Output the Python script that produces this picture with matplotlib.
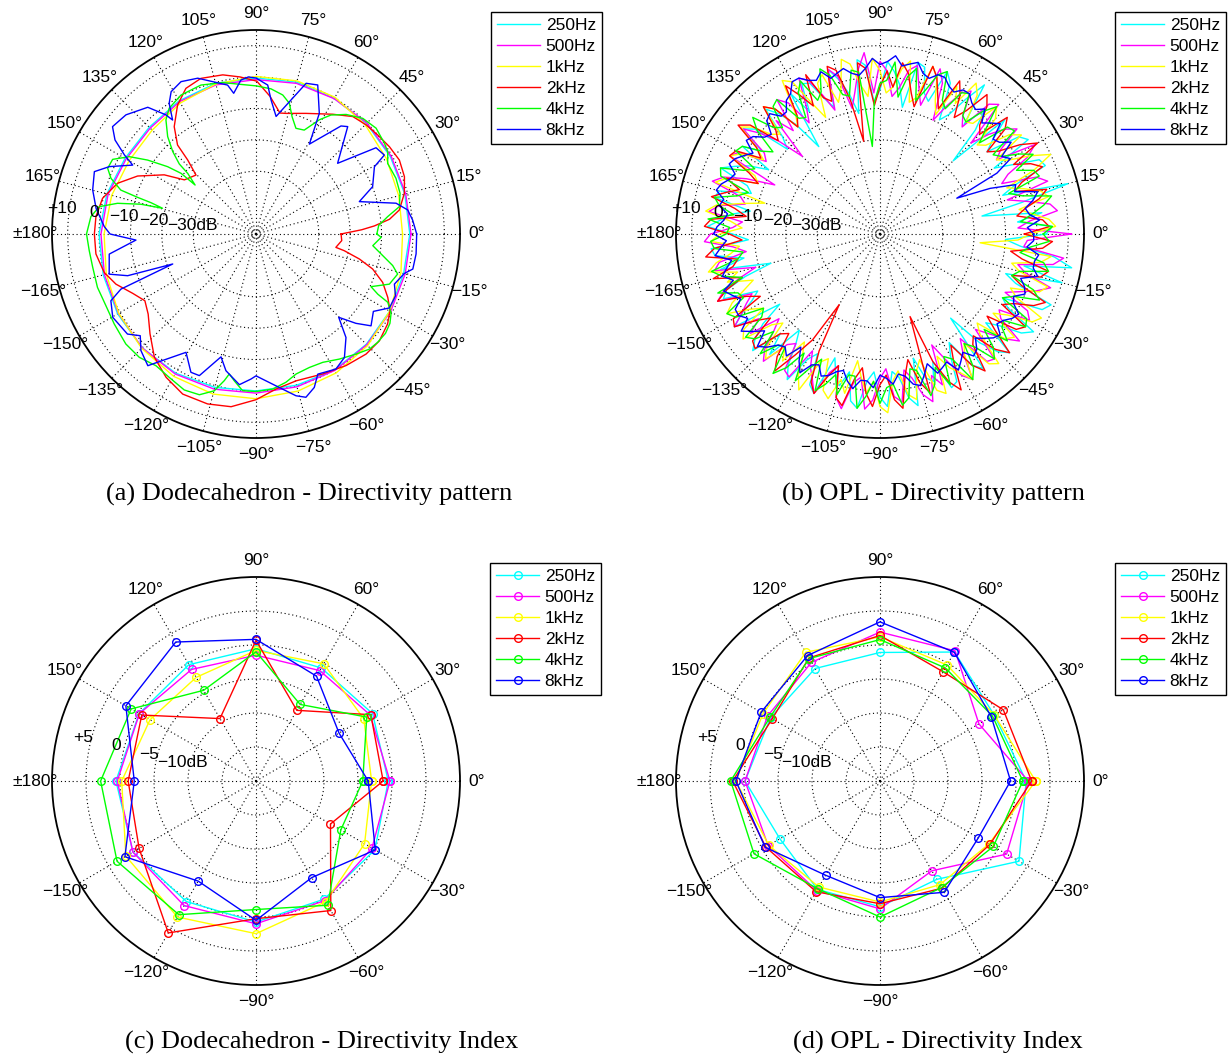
import numpy as np
import matplotlib
matplotlib.use('agg')
import matplotlib.pyplot as plt
from matplotlib.lines import Line2D

plt.rcParams['font.family'] = ['Liberation Sans', 'DejaVu Sans']

W, H = 1228, 1059
MINUS = '\u2212'

freq_labels = ['250Hz', '500Hz', '1kHz', '2kHz', '4kHz', '8kHz']
freq_colors = ['#00ffff', '#ff00ff', '#ffff00', '#ff0000', '#00ff00', '#0000ff']

# ---------------- (a) Dodecahedron - directivity pattern (dB) ----------------
dod_smooth_deg = list(range(0, 360, 15))
dod_250 = [-1.0, -0.9, -0.6, -0.2, -0.1, 0.1, -0.3, -0.3, -1.0, -1.9, -1.8, -0.8,
           0.0, 0.4, 0.9, 1.3, 1.2, 0.6, 0.0, -0.1, 0.0, -0.3, -0.8, -1.3]
dod_500 = [-0.6, -0.6, -0.3, 0.0, -0.2, -0.3, -0.8, -0.8, -1.3, -2.3, -2.2, -1.2,
           -0.6, 0.0, 0.6, 1.3, 1.5, 1.2, 0.7, 0.4, 0.2, -0.1, -0.5, -0.8]
dod_1k = [-3.3, -2.9, -2.0, -0.8, 0.3, 0.5, 0.2, -0.5, -1.8, -3.2, -3.3, -2.4,
          -1.6, -0.6, 0.5, 1.5, 2.4, 2.8, 2.5, 1.8, 1.1, 0.3, -0.8, -2.2]

dod_2k_deg = [0, 2.3, 3.9, 6.3, 9.5, 15.3, 21.1, 27.3, 33.2, 39.1,
              44.7, 50.5, 57.4, 67.5, 76, 78.8, 84.2, 89.7, 95.8, 101.8,
              109.5, 115.7, 121.3, 127.3, 131.4, 132.7, 135.5, 142.9, 147.2, 153.9,
              159.9, 166.9, 173.8, 180, 187.1, 194.2, 199.7, 205.7, 211, 216.6,
              223.3, 230.5, 237.9, 245.4, 254.1, 261.8, 270, 277.4, 285.3, 295.5,
              304.4, 312.5, 319.1, 325.6, 330.2, 334.3, 339.1, 343.3, 346.4, 349.3,
              350.5, 355.6]
dod_2k = [-22.9, -16.3, -12.2, -7.2, -3.7, -1.0, 0.7, 1.4, 0.8, 0.0,
          -0.6, -1.5, -4.7, -8.4, -10.4, -10.7, -5.9, -1.3, 0.3, 1.8,
          2.6, 1.5, -1.9, -7.0, -12.2, -17.9, -23.2, -21.4, -15.2, -8.0,
          -3.0, 0.2, 1.3, 1.5, 1.4, -0.1, -2.6, -6.4, -8.7, -7.2,
          -3.6, 0.9, 3.9, 6.1, 6.3, 5.6, 2.8, -0.2, -1.5, -0.6,
          0.8, 1.9, 2.0, 0.8, -0.8, -3.4, -6.8, -11.2, -16.1, -21.4,
          -24.2, -22.6]

dod_4k_deg = [0, 4, 7.5, 10.8, 15.8, 21.7, 28.2, 32, 35.2, 41.4,
              47.3, 53, 57.8, 61, 65.1, 69.3, 72.9, 75.7, 79.1, 84.1,
              90, 95.7, 102.4, 110.3, 118.4, 124.6, 128.3, 132.2, 135.3, 137.6,
              138.4, 141.2, 141.0, 142.7, 145.7, 148.6, 152.5, 156.1, 159, 162,
              162.8, 163.4, 164.6, 165.5, 167.5, 170.1, 174, 180, 185.7, 191.5,
              198.6, 205.5, 212.4, 220.2, 226.6, 232.8, 238.8, 245.3, 250.6, 255.1,
              257.8, 259.2, 261.6, 265.1, 270, 276.1, 281.4, 286, 291.8, 297.5,
              303.7, 309.8, 314.6, 318.3, 322.5, 326.3, 329.6, 332.6, 333.7, 335.4,
              339.4, 344.2, 347, 350.9, 354.3, 358.5]
dod_4k = [-11.5, -10.8, -7.7, -3.5, -2.3, -2.0, -2.4, -0.5, 0.1, 1.0,
          0.15, -2.3, -5.2, -8.4, -13.5, -14.0, -10.9, -7.0, -4.9, -3.5,
          -2.8, -2.1, -0.6, 0.6, 0.3, -1.3, -3.7, -8.1, -12.7, -16.9,
          -20.9, -25.1, -19.3, -14.6, -8.2, -2.7, 1.5, 1.7, -0.5, -4.7,
          -10.5, -15.1, -19.1, -12.1, -4.8, 0.7, 2.9, 4.0, 3.4, 3.1,
          3.3, 3.0, 3.5, 4.3, 4.1, 2.7, 3.4, 4.7, 4.3, 1.7,
          -2.2, -4.6, -2.7, 0.1, 0.2, -0.3, -1.8, -3.6, -4.2, -3.9,
          -2.1, -0.2, 1.5, 1.9, 2.0, 1.3, -0.1, -2.7, -6.7, -9.7,
          -4.6, -3.1, -5.3, -9.6, -12.6, -10.1]

dod_8k_deg = [0, 5.1, 9.0, 12.4, 17.4, 22.1, 29.6, 31.6, 35.7, 40.9,
              49.5, 51.8, 59.3, 62.3, 67.5, 71.6, 80.3, 83.6, 85.5, 90,
              92.8, 95.6, 99.0, 100.8, 110.5, 116.2, 120.8, 123.6, 126.2, 127.1,
              130.5, 137.5, 143.2, 146.3, 149.0, 150.8, 155.3, 158.9, 164.9, 170.9,
              177.2, 180, 182.9, 187.8, 195.3, 198.0, 199.8, 202.2, 204.7, 210.2,
              217.9, 221.3, 225.4, 230.6, 232.5, 239.4, 244.8, 248.2, 254.1, 257.6,
              263.7, 268, 270, 277.5, 283.9, 287, 290.8, 293.8, 300.6, 305.6,
              311, 314.8, 318.2, 321.4, 326.6, 331, 336.1, 340.1, 345.1, 347.4,
              352.9]
dod_8k = [1.2, 0.1, -1.05, -4.3, -15.5, -9.9, -6.6, -2.0, -2.9, -15.6,
          -5.0, -6.2, -16.7, -6.6, 1.4, 0.6, -12.0, -7.0, -2.4, -0.3,
          0.1, -0.7, -4.6, -1.7, 3.0, 4.1, 2.8, 0.0, -5.0, -2.4,
          3.1, 6.2, 7.1, 4.0, -1.1, -5.0, 1.4, 5.2, 3.9, 1.6,
          -1.6, -3.5, -11.7, -2.8, -1.5, -7.0, -21.8, -3.5, 0.9, 2.8,
          1.9, -0.9, 2.2, 4.3, 1.5, -6.2, -1.3, -1.4, -9.3, -5.4,
          -1.7, -3.75, -4.8, -1.2, 3.1, 4.4, 2.3, -1.2, 0.0, -1.6,
          -6.3, -12.6, -7.3, -3.1, -5.2, -1.4, -1.4, -3.1, -1.1, 1.2,
          1.4]

# ---------------- (b) OPL - directivity pattern (dB) ----------------
# values at 0, 5, 10 ... deg and at the half steps 2.5, 7.5 ... deg
opl_deg = np.arange(0, 360, 2.5)
opl_250 = [3, -6, -17, 12, -4, 6, -8, 4, -3, -17, 2, 8,
           -6, 3, -5, 5, -9, 2, -4, 4, -11, 1, -7, 3,
           -5, -16, 0, -6, 2, -4, -9, 1, -5, 3, -8, 1,
           -3, 4, -6, -14, 2, -7, 1, -11, 2, -5, -10, 1,
           -4, 3, -8, 0, 4, -3, 2, -6, 3, -9, 0, 4,
           -5, 1, -15, 3, -6, 5, -3, 7, -4, 10, 12, -5]
opl_250_mid = [5, 2, -4, -9, 7, -2, 6, -7, 4, -5, -6, 1,
               -9, 6, -3, 6, -2, 5, -8, 6, -4, 5, -3, 4,
               3, -6, 4, -10, 5, 2, -3, 5, -7, 4, -2, 5,
               -8, 3, 2, -5, 4, -4, 5, -3, 5, 2, -6, 5,
               -7, 5, -3, -5, 6, -6, 5, -4, 6, -2, -6, 3,
               -9, 4, -3, 6, -2, 8, -6, 9, -8, -3, 6, -10]
opl_500 = [11, -2, 5, -8, 3, -5, 7, -3, 2, -9, 4, -4,
           2, -10, 6, -2, 3, -6, 5, 8, -4, 2, -8, 4,
           -3, 1, -7, -15, 0, -5, 2, -13, 3, -4, 2, -6,
           4, -3, 2, -9, 3, -5, 1, -3, -8, 2, -4, 3,
           -7, 1, -3, 4, -2, 6, -4, 2, -6, 3, -2, -11,
           2, -4, 3, -7, 2, -3, 5, -6, 3, -2, 6, -4]
opl_500_mid = [-6, 7, -2, 6, -8, 3, -6, 5, -3, 6, -7, 4,
               -4, 2, -7, 5, -3, 2, -5, 3, -9, 5, -2, 6,
               -8, 4, -1, -6, 5, -7, 4, -4, 6, -6, 5, -3,
               6, -7, 4, -3, 6, -2, 5, 2, -4, 5, -6, 4,
               -2, 5, -6, 7, -4, 3, -7, 4, -3, 6, 2, -5,
               5, -8, 4, -3, 6, -5, 3, -2, 7, -5, 9, -3]
opl_1k = [-2, 4, -5, 3, -7, 10, -3, 5, -6, 2, -4, 4,
          -2, -8, 3, -5, 6, -3, 2, -6, 5, -2, 4, -9,
          6, -3, 2, -5, 3, -2, 1, -6, 2, -12, 3, -2,
          1, -5, 3, -3, -7, 2, -2, 3, -5, 1, -3, -8,
          2, -5, 3, -2, -9, 1, 5, -3, 2, -5, 3, -7,
          1, -3, 4, -5, 2, -6, 6, -2, 4, -4, 2, -18]
opl_1k_mid = [6, -1, 5, -2, 3, 4, -6, 2, -8, 5, -5, 7,
              3, -4, 6, -7, 3, -5, 6, -2, 7, -6, 2, -3,
              8, -7, 5, -3, 6, -6, 4, -8, 5, -5, 6, -6,
              4, -2, 6, 1, -3, 5, -6, 5, -8, 4, 1, -4,
              6, -7, 5, 2, -4, -3, 7, -6, 4, -8, 5, -2,
              5, -6, 6, -8, 4, -2, 8, -5, 6, -7, 5, -6]
opl_2k = [-4, 2, -3, 5, -2, 3, 8, -4, 2, -5, 3, -2,
          1, -6, 3, -8, 2, -3, -3, 3, -20, 4, -5, 6,
          1, -4, 2, -3, 4, -2, 3, -4, 2, 1, -3, 4,
          -2, 3, -4, 5, 2, -3, 4, -2, 3, -5, 1, -3,
          -24, 2, -2, 4, -3, 1, -2, 3, -4, -1, -22, 2,
          -3, 1, -4, 2, -2, 3, -5, 4, -2, 3, -4, 2]
opl_2k_mid = [4, -6, 2, -5, 6, -2, 3, -7, 5, -3, 6, -6,
              5, -2, 6, -4, 5, 2, -9, 5, -6, 6, -3, -4,
              6, -7, 5, -6, 7, -5, 4, -8, -3, 5, -7, 6,
              -6, 6, -2, -4, 6, -7, 5, -6, 4, -7, 5, -10,
              -8, 5, -6, 6, -7, 5, -5, 6, -9, 3, -6, 6,
              -8, 5, -6, 6, -7, 5, -2, 7, -6, 5, -8, 5]
opl_4k = [2, -5, 3, -3, 4, -2, 1, -6, 3, -2, 1, -4,
          2, -3, 4, -6, 1, 5, -2, -22, 3, -4, 6, -3,
          2, -5, 3, -2, 1, -4, 3, -2, 4, -3, 2, 5,
          -1, 3, -4, 2, 5, -2, 3, -4, 2, 4, -3, 2,
          4, -6, 1, 3, -4, 2, 4, -2, 3, -5, 1, 3,
          -4, 2, -3, 1, 3, -2, 4, -3, 2, -4, 3, -2]
opl_4k_mid = [5, -1, 6, -7, 3, 5, -4, 4, -7, 5, -5, 3,
              -5, 6, -2, 4, -6, -1, -8, 2, -5, 3, -1, 5,
              -6, 4, -4, 5, -7, 2, -5, 5, -6, 4, -3, -2,
              4, -6, 5, -4, -1, 5, -6, 4, -4, -2, 6, -5,
              -2, 4, -3, -4, 6, -3, -1, 5, -6, 4, -4, -6,
              5, -6, 4, -5, -1, 5, -6, 5, -6, 5, -5, 4]
opl_8k = [-1, 1, -3, 2, -4, -23, -2, 1, -3, 0, 2, 1,
          3, 2, 4, 3, 5, 7, 4, 3, 2, 3, 5, 4,
          6, 2, -1, 1, -2, 2, 0, 3, 1, 4, 2, 0,
          3, 1, -2, 2, 3, -1, 2, 4, -2, 1, -3, -6,
          1, -4, -2, -5, 0, -3, -5, -2, -4, 0, -6, -3,
          0, -4, -2, -3, 0, -2, 1, -3, -1, 2, 0, -3]
opl_8k_mid = [-3, -2, 0, -5, -12, -8, -4, -2, 2, -2, 0, 3,
              1, 4, 2, 6, 4, 5, 6, 1, 4, 2, 3, 6,
              3, -1, 2, -3, 1, -2, 2, 0, 3, 1, -1, 2,
              -1, 3, 0, -1, 1, 2, 0, 1, 3, -2, -1, -2,
              -3, -1, -4, -2, -3, -1, -4, -5, -1, -3, -2, -4,
              -2, -1, -5, -1, -3, 0, -2, 0, -3, 0, 1, -1]

# ---------------- (c)/(d) directivity index (dB, every 30 deg) ----------------
di_deg = list(range(0, 360, 30))
dod_di_250 = [-0.55, -0.2, -0.8, -0.55, -0.25, -0.15, 0.6, 0.9, 0.47, 0.74, 0.06, 0.2]
dod_di_500 = [-0.3, -0.6, -1.25, -1.5, -1.05, -0.2, 0.4, 0.9, 1.15, 1.0, 0.3, -0.3]
dod_di_1k = [-3.0, -1.7, -0.1, -0.8, -2.4, -2.0, -0.25, 2.1, 3.1, 2.45, 0.5, -1.56]
dod_di_2k = [-1.3, -0.5, -8.0, 0.7, -9.4, -0.6, -1.2, -0.15, 5.8, 0.25, 2.0, -7.35]
dod_di_4k = [-4.3, -1.2, -7.0, -1.0, -4.6, 1.2, 2.85, 3.6, 2.7, -1.1, 1.1, -5.6]
dod_di_8k = [-3.5, -5.9, -2.2, 0.83, 3.6, 2.1, -2.1, 2.26, -3.0, 0.49, -3.6, 0.26]

opl_di_250 = [1.5, -0.6, 1.9, -1.1, -0.9, -1.4, -0.15, -3.0, -1.6, -1.5, -3.3, 3.6]
opl_di_500 = [1.8, -3.2, 2.1, 1.9, 0.15, -0.9, -0.15, -1.0, -1.4, -1.2, -4.75, 1.5]
opl_di_1k = [2.9, -0.6, -0.3, 1.2, 1.85, -0.15, 1.2, -1.1, -2.0, -2.2, -2.4, -1.5]
opl_di_2k = [2.3, 0.94, -1.45, 1.4, 0.9, -1.7, 1.66, -0.6, -1.2, -1.95, -1.8, -1.34]
opl_di_4k = [1.0, -0.9, -0.8, 0.8, 0.8, -1.3, 1.96, 1.4, -1.7, 0.0, -1.9, -0.75]
opl_di_8k = [-0.8, -1.1, 1.86, 3.4, 1.3, 0.2, 1.2, -0.5, -4.0, -2.85, -1.1, -3.3]

captions = ['(a) Dodecahedron - Directivity pattern', '(b) OPL - Directivity pattern',
            '(c) Dodecahedron - Directivity Index', '(d) OPL - Directivity Index']


def deg_label(a):
    if a == 0:
        return '0°'
    if a < 180:
        return '%d°' % a
    if a == 180:
        return '±180°'
    return MINUS + '%d°' % (360 - a)


def closed(deg, vals):
    t = np.deg2rad(np.r_[deg, deg[0]])
    return t, np.r_[vals, vals[0]]


fig = plt.figure(figsize=(W / 100, H / 100), dpi=100)


def polar_panel(cx, cy, rmin, rmax, rticks, rlabels, step, lab_ang, lab_off):
    R = 204
    ax = fig.add_axes([(cx - R) / W, 1 - (cy + R) / H, 2 * R / W, 2 * R / H],
                      projection='polar')
    ax.set_ylim(rmin, rmax)
    angs = np.arange(0, 360, step)
    ax.set_thetagrids(angs, [deg_label(a) for a in angs])
    ax.set_yticks(rticks)
    ax.set_yticklabels([])
    ax.grid(True, color='k', linestyle=(0, (1, 2.5)), linewidth=0.8)
    ax.tick_params(axis='x', pad=1.5, labelsize=12.5)
    ax.spines['polar'].set_linewidth(1.3)
    for r, s, o in zip(rticks, rlabels, lab_off):
        ax.text(np.deg2rad(lab_ang), r + o, s, ha='center', va='center', fontsize=12.5)
    return ax


def add_legend(ax, x, y, marker):
    handles = [Line2D([], [], color=c, lw=1.0, marker=marker, mfc='none', ms=5.5)
               for c in freq_colors]
    leg = ax.legend(handles, freq_labels, loc='upper left', bbox_to_anchor=(x / W, 1 - y / H),
                    bbox_transform=fig.transFigure, fancybox=False, edgecolor='k',
                    framealpha=1, borderaxespad=0, handlelength=2.5, handletextpad=0.3,
                    labelspacing=0.33, borderpad=0.35, fontsize=12.5, numpoints=1)
    leg.get_frame().set_linewidth(1.0)


top_ticks = [10, 0, -10, -20, -30]
top_labels = ['+10', '0', MINUS + '10', MINUS + '20', MINUS + '30dB']
top_off = [2.5, 2.1, 2.5, 2.7, 0.4]
bot_ticks = [5, 0, -5, -10, -15]
bot_labels = ['+5', '0', MINUS + '5', MINUS + '10dB', '']
bot_off = [1.15, 1.15, 1.15, 1.15, 0]

# (a)
ax = polar_panel(256, 234, -50, 15, top_ticks, top_labels, 15, 172.5, top_off)
for vals, c in zip([dod_250, dod_500, dod_1k], freq_colors[:3]):
    ax.plot(*closed(dod_smooth_deg, vals), color=c, lw=1.0)
for deg, vals, c in zip([dod_2k_deg, dod_4k_deg, dod_8k_deg], [dod_2k, dod_4k, dod_8k],
                        freq_colors[3:]):
    ax.plot(*closed(deg, vals), color=c, lw=1.0)
add_legend(ax, 491, 12, None)

# (b)
ax = polar_panel(880, 234, -50, 15, top_ticks, top_labels, 15, 172.5, top_off)
opl_main = [opl_250, opl_500, opl_1k, opl_2k, opl_4k, opl_8k]
opl_mid = [opl_250_mid, opl_500_mid, opl_1k_mid, opl_2k_mid, opl_4k_mid, opl_8k_mid]
for main, mid, c in zip(opl_main, opl_mid, freq_colors):
    vals = np.column_stack([main, mid]).ravel()
    ax.plot(*closed(opl_deg, vals), color=c, lw=1.0)
add_legend(ax, 1115, 12, None)

# (c)
ax = polar_panel(256, 781, -20, 10, bot_ticks, bot_labels, 30, 165.8, bot_off)
for vals, c in zip([dod_di_250, dod_di_500, dod_di_1k, dod_di_2k, dod_di_4k, dod_di_8k],
                   freq_colors):
    ax.plot(*closed(di_deg, vals), color=c, lw=1.0, marker='o', mfc='none', ms=5.5)
add_legend(ax, 490, 563, 'o')

# (d)
ax = polar_panel(880, 781, -20, 10, bot_ticks, bot_labels, 30, 165.8, bot_off)
for vals, c in zip([opl_di_250, opl_di_500, opl_di_1k, opl_di_2k, opl_di_4k, opl_di_8k],
                   freq_colors):
    ax.plot(*closed(di_deg, vals), color=c, lw=1.0, marker='o', mfc='none', ms=5.5)
add_legend(ax, 1115, 563, 'o')

for s, x, y in zip(captions, [309, 933, 322, 938], [494, 494, 1042, 1042]):
    fig.text(x / W, 1 - y / H, s, ha='center', va='center',
             family=['Liberation Serif', 'DejaVu Serif'], fontsize=19)

fig.savefig('out.png', dpi=100)
